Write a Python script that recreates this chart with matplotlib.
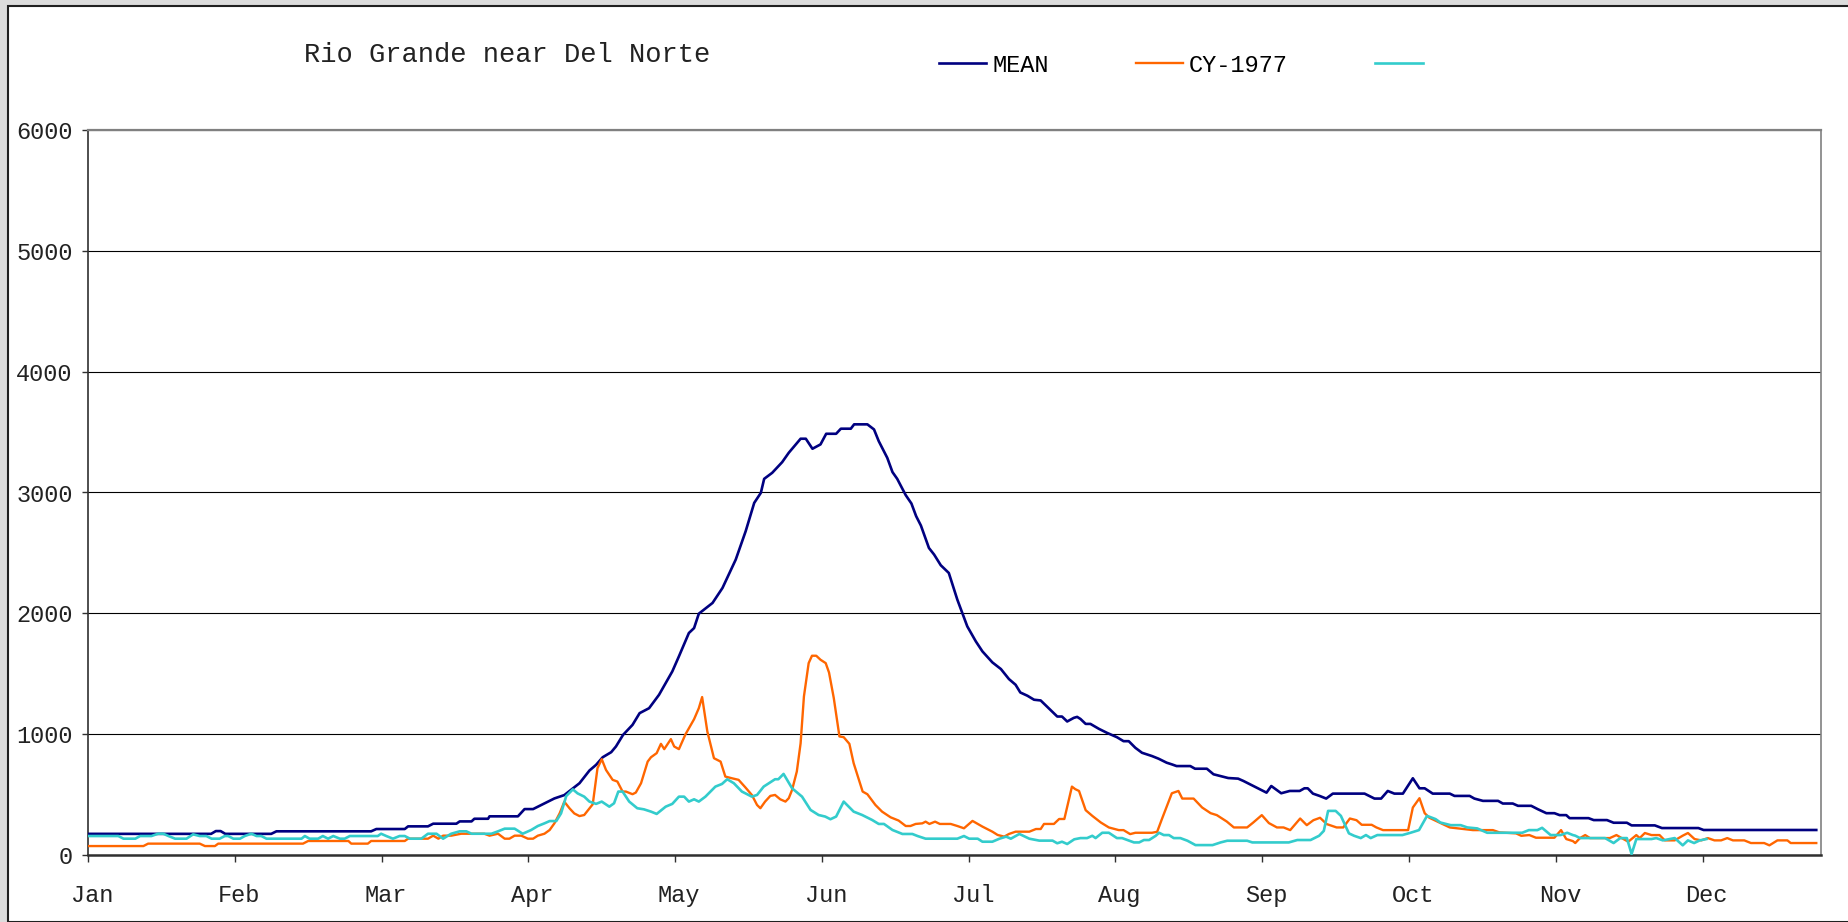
import matplotlib
matplotlib.use("Agg")
import matplotlib.pyplot as plt
from matplotlib.patches import Rectangle
from matplotlib.transforms import ScaledTranslation

plt.rcParams['font.family'] = ['Liberation Mono', 'DejaVu Sans Mono']

# day of year (0 = Jan 1) and flow values
mean_days = [0, 26, 27, 28, 29, 38.7, 39.8, 59.8, 60.9, 66.9, 67.6, 71.8, 72.9, 77.8, 78.5, 81, 81.6,
             84.5, 84.8, 90.8, 92.2, 94, 95, 96.4, 98.5, 100.6, 102.4, 103.8, 105.9, 107.3, 108.7,
             110.5, 111.5, 113, 115, 116.5, 118.5, 120.6, 123.4, 124.8, 126.9, 128, 129, 131.9, 134,
             136.8, 138.9, 140.7, 142.1, 142.8, 144.5, 146.6, 148, 150.5, 151.6, 153, 154.7, 155.9,
             158, 159, 161.1, 161.8, 164.6, 166, 167, 168.8, 169.9, 170.9, 172.7, 173.9, 174.9, 175.9,
             177.6, 178.7, 180.1, 181.8, 183.6, 185.7, 187.5, 188.9, 191, 192.8, 194.5, 195.9, 196.9,
             198.4, 199.8, 201.2, 202.9, 204.7, 205.7, 206.8, 208.2, 208.9, 209.6, 210.7, 211.7,
             213.5, 215.2, 217.3, 218.7, 219.8, 221.2, 222.6, 224.7, 226.1, 227.8, 228.9, 229.9,
             232.8, 233.8, 236.3, 237.7, 239.1, 240.8, 242.9, 244, 246.1, 248.9, 249.9, 252, 253.8,
             255.9, 256.9, 257.6, 258.7, 260.1, 261.5, 262.9, 269.6, 271.7, 273.1, 274.5, 275.9,
             277.7, 279.8, 281.2, 282.3, 284, 287.6, 288.6, 291.8, 292.8, 294.6, 297.8, 298.8, 300.9,
             302, 304.8, 306.2, 308, 309.7, 310.8, 312.2, 312.9, 316.9, 318, 320.8, 322.2, 325, 326,
             330.9, 332.4, 340.1, 341.2, 365]
mean_vals = [175, 175, 198, 198, 175, 175, 196, 196, 215, 215, 237, 237, 259, 259, 278, 278, 300,
             300, 320, 320, 380, 380, 400, 427, 468, 496, 551, 594, 699, 746, 809,
             851, 898, 994, 1077, 1174, 1215, 1326, 1519, 1644, 1837, 1878, 1997, 2086, 2210,
             2445, 2680, 2914, 2997, 3113, 3163, 3251, 3329, 3445, 3445, 3362, 3398, 3486,
             3486, 3528, 3528, 3564, 3564, 3522, 3425, 3287, 3169, 3113, 2978, 2909, 2804, 2727,
             2541, 2486, 2398, 2334, 2113, 1892, 1768, 1685, 1594, 1539, 1456, 1409, 1345,
             1318, 1285, 1279, 1215, 1146, 1146, 1105, 1135, 1143, 1126, 1085, 1085,
             1044, 1011, 975, 942, 942, 887, 846, 819, 797, 764, 750, 736,
             736, 714, 714, 668, 654, 637, 632, 613, 571, 516, 571, 511, 530,
             530, 552, 552, 508, 489, 467, 508, 508, 467, 467, 530, 508,
             508, 635, 552, 552, 508, 508, 489, 489, 467, 448, 448, 426, 426,
             407, 407, 379, 346, 346, 330, 330, 305, 305, 289, 289, 267, 267, 245,
             245, 223, 223, 207, 207]

cy_days = [0, 11.7, 12.7, 23.6, 24.7, 26.8, 27.5, 45.4, 46.5, 55, 55.6, 59.1, 59.8, 66.9, 67.6, 71.8,
           72.9, 74, 75, 76.7, 78.8, 83.7, 84.8, 86.6, 88, 89, 90.1, 91.5, 92.9, 94, 95, 96.4, 97.5,
           98.5, 99.6, 100.6, 101.7, 102.7, 103.8, 104.8, 106.6, 107.6, 108.5, 109.4, 110.8, 111.8,
           112.9, 113.6, 115, 115.7, 116.8, 118.2, 118.9, 120.1, 121, 121.7, 123.1, 123.8, 124.8,
           126.2, 128, 129, 129.7, 130.8, 132.2, 133.6, 134.6, 136, 137.4, 138.8, 140.2, 141.3, 142,
           143, 144.1, 145.1, 146.2, 147.3, 148, 148.7, 149.7, 150.5, 151.2, 152.2, 152.9, 153.8,
           154.7, 155.8, 156.5, 157.5, 158.7, 159.6, 160.8, 161.7, 163.6, 164.6, 166.3, 167.7, 169.5,
           171.2, 172.7, 173.7, 174.8, 176.2, 176.9, 177.7, 178.9, 179.9, 182.2, 183.6, 185, 186.8,
           188.9, 191, 192.1, 193.5, 194.5, 195.9, 198.8, 200.2, 201.2, 201.9, 204, 205.1, 206.2,
           207.8, 208.5, 209.3, 210.7, 212.1, 213.9, 215.6, 217.7, 218.7, 220.1, 221.2, 224.7, 225.8,
           226.8, 228.9, 230.3, 231.1, 233.5, 235.3, 237.1, 238.4, 240.5, 242, 244.8, 246.1, 247.9,
           249.4, 251.1, 252.5, 253.9, 256, 257.4, 258.8, 260.2, 261.6, 263.7, 265.1, 266.5, 267.9,
           269, 271.1, 272.1, 273.5, 278.8, 279.8, 281.2, 282.3, 283.3, 285.4, 287.6, 292.5, 296.7,
           298.1, 301.6, 302.7, 304.4, 305.8, 309.7, 311.1, 312.2, 313.6, 314.1, 315.1, 316.2, 317.2,
           321.4, 322.8, 323.9, 325.3, 327, 327.7, 328.8, 330.2, 331.9, 333, 335.1, 336.8, 337.9,
           339.3, 340.7, 342.1, 343.5, 344.9, 346.2, 347.4, 349.8, 351.2, 354, 355.1, 356.8, 358.9,
           359.6, 365]
cy_vals = [74, 74, 94, 94, 74, 74, 94, 94, 116, 116, 94, 94, 116, 116, 135, 135,
           160, 135, 160, 160, 176, 176, 160, 176, 135, 135, 160, 160, 135, 135, 160, 176, 207,
           262, 344, 441, 386, 344, 322, 331, 420, 718, 793, 704, 622, 608,
           525, 525, 503, 517, 594, 773, 809, 843, 920, 876, 959, 898, 876,
           1000, 1124, 1215, 1307, 1022, 801, 773, 649, 635, 622, 561, 497, 414, 387,
           442, 489, 497, 461, 442, 470, 539, 691, 925, 1312, 1588, 1649, 1649,
           1616, 1588, 1510, 1300, 981, 975, 920, 760, 525, 503, 414, 359, 312,
           285, 240, 240, 257, 262, 276, 257, 276, 257, 257, 240, 221, 282,
           235, 193, 166, 152, 174, 193, 193, 215, 215, 257, 257, 298, 298,
           566, 545, 530, 371, 324, 269, 228, 206, 206, 173, 184, 184, 192,
           297, 511, 530, 467, 467, 393, 346, 330, 277, 228, 228, 269, 330,
           264, 228, 228, 206, 302, 247, 288, 308, 256, 228, 228, 302, 288,
           250, 250, 228, 206, 206, 393, 470, 346, 308, 269, 228, 206, 206,
           187, 179, 159, 165, 143, 143, 206, 132, 115, 99, 140, 165, 140,
           140, 165, 140, 110, 165, 140, 182, 165, 165, 121, 121, 160, 182,
           132, 121, 140, 121, 121, 140, 121, 121, 99, 99, 80, 121, 121,
           99, 99]

third_days = [0, 6.4, 7.5, 10, 11, 13.4, 14.8, 15.9, 17, 18.4, 20.8, 22.2, 23.6, 25, 26.1, 27.8, 28.9,
              29.6, 30.7, 32.1, 33.1, 34.5, 35.6, 36.6, 37.7, 45.1, 45.8, 46.8, 48.6, 49.6, 50.7, 51.8,
              53.2, 54.2, 55.3, 61.2, 61.9, 63, 64.4, 65.8, 66.9, 68, 70.4, 71.8, 73.6, 75, 76.7, 78.5,
              79.9, 81, 85.2, 86.6, 88, 90.1, 91.8, 93.6, 95, 96.4, 97.5, 98.9, 99.9, 101, 102.4,
              103.4, 104.8, 105.9, 107.3, 108.5, 110.1, 111.1, 112, 112.9, 114.3, 116, 117.4, 118.9,
              120.1, 122, 123.4, 124.8, 125.9, 126.9, 128, 129, 130.4, 132.5, 133.9, 135, 136.4, 138.1,
              140.2, 141.3, 142.7, 143.8, 145.1, 145.8, 146.9, 148.7, 150.8, 152.6, 154.3, 155.7,
              156.8, 158, 159.6, 161.7, 163.5, 165.6, 167, 168.1, 169.9, 172, 174.1, 175.2, 176.9,
              183.6, 185, 186.1, 187.9, 188.9, 191, 192.5, 193.9, 194.9, 196.7, 198.8, 200.9, 203.7,
              204.7, 205.7, 206.8, 208.3, 209.6, 211, 212.1, 212.8, 214.2, 215.6, 217.3, 218.4, 219.5,
              220.9, 222, 223, 224.1, 225.5, 226.2, 227.2, 228.3, 229.3, 230.7, 232.2, 233.9, 237.5,
              239.2, 240.6, 244.8, 245.9, 253.6, 255.4, 258.2, 260, 261, 261.9, 263.5, 264.6, 266.3,
              267.4, 268.8, 269.9, 270.9, 272.3, 277.6, 279.3, 281.1, 282.8, 284.6, 285.6, 287.8,
              289.9, 291.3, 293.4, 295.5, 302.9, 304.3, 306.1, 307.1, 308.9, 311, 312.4, 313.6, 314.1,
              315.1, 320.4, 322.2, 323.6, 325, 326, 327, 330.2, 331.2, 332.6, 335.1, 336.8, 337.9,
              339.2, 340.4, 341.8]
third_vals = [157, 157, 135, 135, 157, 157, 176, 176, 157, 135, 135, 171, 157, 157, 135, 135, 157,
              157, 135, 135, 157, 176, 157, 157, 135, 135, 157, 135, 135, 157, 135, 157,
              135, 135, 157, 157, 176, 157, 135, 157, 157, 135, 135, 176, 176, 135, 176, 196,
              196, 176, 176, 196, 218, 218, 176, 207, 240, 262, 281, 281, 344, 488, 543,
              510, 483, 442, 423, 442, 400, 428, 525, 525, 442, 387, 378, 359,
              340, 400, 423, 483, 483, 442, 461, 442, 483, 566, 588, 627, 594, 525,
              483, 497, 566, 594, 627, 627, 671, 552, 483, 373, 331, 318,
              296, 318, 442, 359, 331, 290, 257, 257, 207, 174, 174, 157, 135,
              135, 157, 135, 135, 110, 110, 135, 152, 135, 174, 135, 119, 119,
              97, 110, 91, 130, 140, 140, 159, 140, 184, 184, 140, 140, 124,
              104, 104, 124, 124, 159, 184, 165, 165, 140, 140, 118, 82, 82,
              104, 118, 118, 104, 104, 124, 124, 159, 200, 365, 365, 324, 179,
              159, 140, 165, 140, 165, 165, 184, 206, 324, 297, 269, 247,
              247, 228, 220, 184, 184, 206, 206, 225, 165, 165, 184, 165, 160,
              140, 140, 99, 140, 140, 8, 132, 132, 140, 121, 140, 80, 121,
              99, 121, 132]

month_labels = ['Jan', 'Feb', 'Mar', 'Apr', 'May', 'Jun', 'Jul', 'Aug', 'Sep', 'Oct', 'Nov', 'Dec']
month_ticks = [31 * i for i in range(12)]

fig = plt.figure(figsize=(18.48, 9.22), dpi=100)
fig.patch.set_facecolor('#dcdcdc')
# white chart area with dark frame line at top/left (screenshot look)
fig.add_artist(Rectangle((8 / 1848, 0), 1, 1 - 6 / 922, transform=fig.transFigure,
                         facecolor='white', edgecolor='#202020', linewidth=1.5, zorder=0))

ax = fig.add_axes([88 / 1848, 1 - 855 / 922, (1821 - 88) / 1848, (855 - 130) / 922])
ax.set_facecolor('white')

l1, = ax.plot(mean_days, mean_vals, color='#000080', linewidth=1.9, zorder=3)
l2, = ax.plot(cy_days, cy_vals, color='#ff6600', linewidth=1.7, zorder=4)
l3, = ax.plot(third_days, third_vals, color='#33cccc', linewidth=1.9, zorder=5)

ax.set_xlim(0, 366)
ax.set_ylim(0, 6000)
ax.set_yticks(range(0, 6001, 1000))
ax.set_xticks(month_ticks)
ax.set_xticklabels(month_labels)
ax.yaxis.grid(True, color='black', linewidth=0.8)
ax.set_axisbelow(True)

ax.spines['left'].set_color('#303030')
ax.spines['left'].set_linewidth(1.2)
ax.spines['bottom'].set_color('#303030')
ax.spines['bottom'].set_linewidth(1.8)
ax.spines['top'].set_color('#808080')
ax.spines['top'].set_linewidth(1.6)
ax.spines['right'].set_color('#808080')
ax.spines['right'].set_linewidth(1.2)

ax.tick_params(axis='y', direction='out', length=4, width=1, color='#303030',
               labelsize=17, pad=7, labelcolor='#222222')
ax.tick_params(axis='x', direction='out', length=5, width=1, color='#303030',
               labelsize=17, pad=16, labelcolor='#222222')
off = ScaledTranslation(4 / 100, 0, fig.dpi_scale_trans)
for lab in ax.get_xticklabels():
    lab.set_transform(lab.get_transform() + off)

fig.text(507 / 1848, 1 - 55 / 922, 'Rio Grande near Del Norte', ha='center', va='center',
         fontsize=19.5, color='#222222')

leg = fig.legend([l1, l2, l3], ['MEAN', 'CY-1977', ''], loc='center left',
                 bbox_to_anchor=(939 / 1848, 1 - 65 / 922), ncol=3, frameon=False,
                 fontsize=17, handlelength=2.0, handletextpad=0.25, columnspacing=3.7,
                 borderpad=0, borderaxespad=0)

fig.savefig('out.png', dpi=100, facecolor=fig.get_facecolor())
